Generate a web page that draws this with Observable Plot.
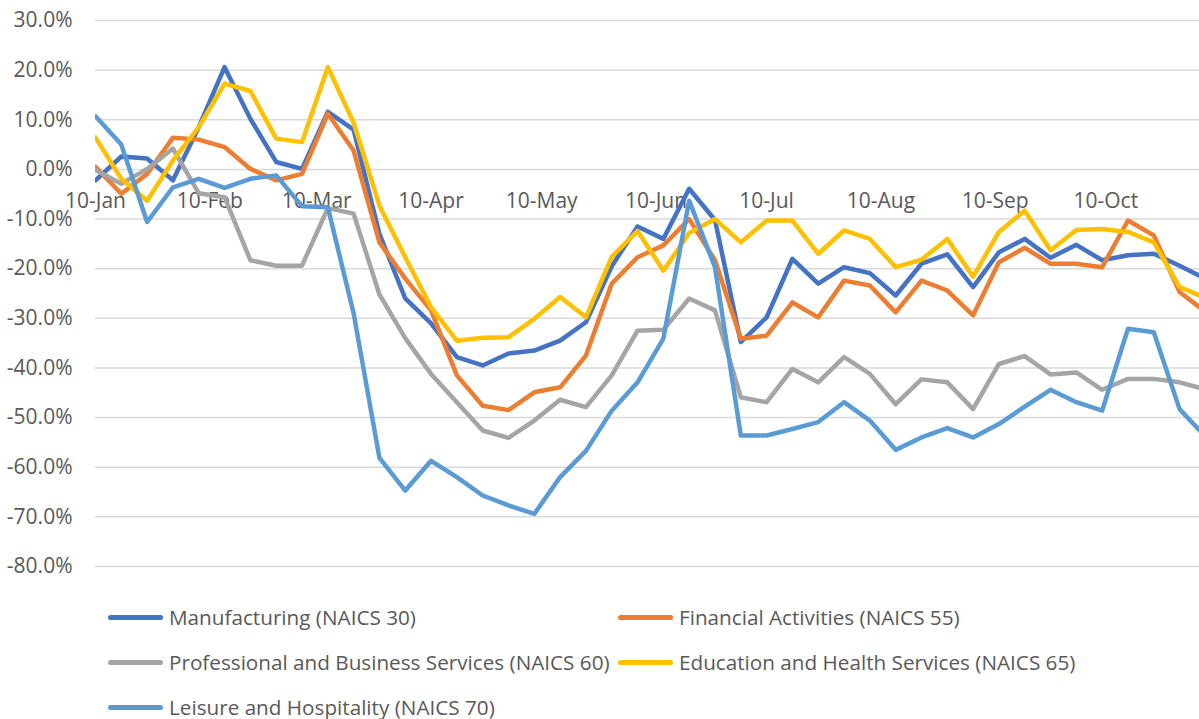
<!DOCTYPE html>
<html>
<head>
<meta charset="utf-8">
<script src="https://cdn.jsdelivr.net/npm/d3@7"></script>
<script src="https://cdn.jsdelivr.net/npm/@observablehq/plot@0.6"></script>
<style>
  html, body { margin: 0; padding: 0; background: #fff; overflow: hidden; }
  #wrap { position: relative; width: 1199px; height: 719px; font-family: "Open Sans", sans-serif; }
  #legend { position: absolute; left: 108px; top: 595px; display: grid; grid-template-columns: 510px 510px; grid-auto-rows: 45px; }
  .item { display: flex; align-items: center; font-size: 20.7px; line-height: 1; color: #595959; white-space: nowrap; }
  .sw { width: 55px; height: 5px; border-radius: 3px; margin-right: 6px; flex: none; }
</style>
</head>
<body>
<div id="wrap"><div id="chart"></div><div id="legend"></div></div>
<script>
const dates = [
  "2020-01-10","2020-01-17","2020-01-24","2020-01-31","2020-02-07","2020-02-14","2020-02-21","2020-02-28",
  "2020-03-06","2020-03-13","2020-03-20","2020-03-27","2020-04-03","2020-04-10","2020-04-17","2020-04-24",
  "2020-05-01","2020-05-08","2020-05-15","2020-05-22","2020-05-29","2020-06-05","2020-06-12","2020-06-19",
  "2020-06-26","2020-07-03","2020-07-10","2020-07-17","2020-07-24","2020-07-31","2020-08-07","2020-08-14",
  "2020-08-21","2020-08-28","2020-09-04","2020-09-11","2020-09-18","2020-09-25","2020-10-02","2020-10-09",
  "2020-10-16","2020-10-23","2020-10-30","2020-11-06"
];

const seriesNames = [
  "Manufacturing (NAICS 30)",
  "Financial Activities (NAICS 55)",
  "Professional and Business Services (NAICS 60)",
  "Education and Health Services (NAICS 65)",
  "Leisure and Hospitality (NAICS 70)"
];
const seriesColors = ["#4472C4", "#ED7D31", "#A5A5A5", "#FFC000", "#5B9BD5"];

const manufacturing = [-2.2, 2.6, 2.2, -2.2, 8.5, 20.6, 10.2, 1.5, 0.1, 11.6, 8.0, -13.0, -26.0, -31.0, -37.8, -39.5,
  -37.1, -36.5, -34.5, -30.8, -19.5, -11.5, -14.0, -3.9, -10.2, -34.8, -29.8, -18.0, -23.0, -19.7, -20.9, -25.4,
  -19.0, -17.1, -23.7, -16.7, -14.0, -17.8, -15.2, -18.3, -17.3, -17.0, -19.4, -22.0];
const financial = [0.5, -4.9, -0.9, 6.4, 6.0, 4.5, 0.1, -2.2, -0.9, 11.2, 3.8, -14.7, -22.0, -28.4, -41.5, -47.6,
  -48.5, -44.9, -43.9, -37.5, -23.0, -17.7, -15.3, -10.0, -18.3, -34.1, -33.5, -26.8, -29.8, -22.4, -23.4, -28.8,
  -22.4, -24.4, -29.4, -18.7, -15.8, -19.0, -19.0, -19.7, -10.3, -13.3, -24.7, -28.7];
const professional = [-0.1, -2.9, 0.1, 4.2, -4.8, -5.6, -18.3, -19.4, -19.4, -7.8, -8.9, -25.2, -34.0, -41.2, -46.9, -52.6,
  -54.1, -50.6, -46.4, -47.9, -41.5, -32.5, -32.3, -26.0, -28.4, -45.9, -46.9, -40.2, -42.9, -37.8, -41.2, -47.3,
  -42.3, -42.9, -48.3, -39.2, -37.6, -41.3, -40.9, -44.4, -42.2, -42.2, -42.9, -44.3];
const education = [6.4, -1.9, -6.3, 1.8, 8.5, 17.3, 15.8, 6.2, 5.5, 20.6, 9.4, -7.3, -17.7, -27.8, -34.5, -33.9,
  -33.8, -30.1, -25.7, -29.8, -17.6, -12.4, -20.4, -12.8, -10.0, -14.7, -10.3, -10.3, -17.0, -12.3, -14.0, -19.7,
  -18.2, -14.0, -21.6, -12.6, -8.3, -16.3, -12.2, -12.0, -12.6, -14.7, -23.7, -25.9];
const leisure = [10.7, 5.0, -10.6, -3.6, -1.9, -3.7, -1.9, -1.2, -7.4, -7.6, -29.0, -58.1, -64.7, -58.7, -62.0, -65.7,
  -67.7, -69.4, -62.0, -56.7, -48.6, -42.9, -34.1, -6.3, -19.7, -53.6, -53.6, -52.3, -50.9, -46.9, -50.6, -56.5,
  -54.0, -52.1, -54.0, -51.3, -47.8, -44.4, -46.9, -48.6, -32.1, -32.8, -48.3, -53.8];

const yTicks = [30, 20, 10, 0, -10, -20, -30, -40, -50, -60, -70, -80];
const xTickDates = ["2020-01-10","2020-02-10","2020-03-10","2020-04-10","2020-05-10",
  "2020-06-10","2020-07-10","2020-08-10","2020-09-10","2020-10-10"];

const allSeries = [manufacturing, financial, professional, education, leisure];
const rows = [];
allSeries.forEach((vals, k) => vals.forEach((v, i) => rows.push({date: new Date(dates[i]), value: v, series: seriesNames[k]})));

const DAY = 864e5;
const start = new Date(dates[0]);
const end = new Date(+start + 299.4 * DAY);
const fmtX = d3.utcFormat("%-d-%b");

const chart = Plot.plot({
  width: 1199,
  height: 590,
  marginLeft: 95,
  marginRight: 0,
  marginTop: 20,
  marginBottom: 24,
  style: {fontFamily: "Open Sans, sans-serif", fontSize: "21px", color: "#595959", background: "#fff"},
  x: {type: "utc", domain: [start, end], axis: null},
  y: {domain: [-80, 30], axis: null},
  color: {domain: seriesNames, range: seriesColors},
  marks: [
    Plot.gridY(yTicks, {stroke: "#d9d9d9", strokeOpacity: 1, strokeWidth: 1.5}),
    Plot.axisY(yTicks, {label: null, tickSize: 0, tickPadding: 23, tickFormat: d => d.toFixed(1) + "%", fill: "#595959"}),
    Plot.text(xTickDates, {x: d => new Date(d), y: () => 0, text: d => fmtX(new Date(d)), dy: 32, fill: "#595959"}),
    Plot.line(rows, {x: "date", y: "value", z: "series", stroke: "series", strokeWidth: 4.5,
      strokeLinejoin: "round", strokeLinecap: "round", clip: true})
  ]
});
document.getElementById("chart").appendChild(chart);

const legend = document.getElementById("legend");
seriesNames.forEach((name, k) => {
  const item = document.createElement("div");
  item.className = "item";
  const sw = document.createElement("span");
  sw.className = "sw";
  sw.style.background = seriesColors[k];
  item.appendChild(sw);
  item.appendChild(document.createTextNode(name));
  legend.appendChild(item);
});
</script>
</body>
</html>
